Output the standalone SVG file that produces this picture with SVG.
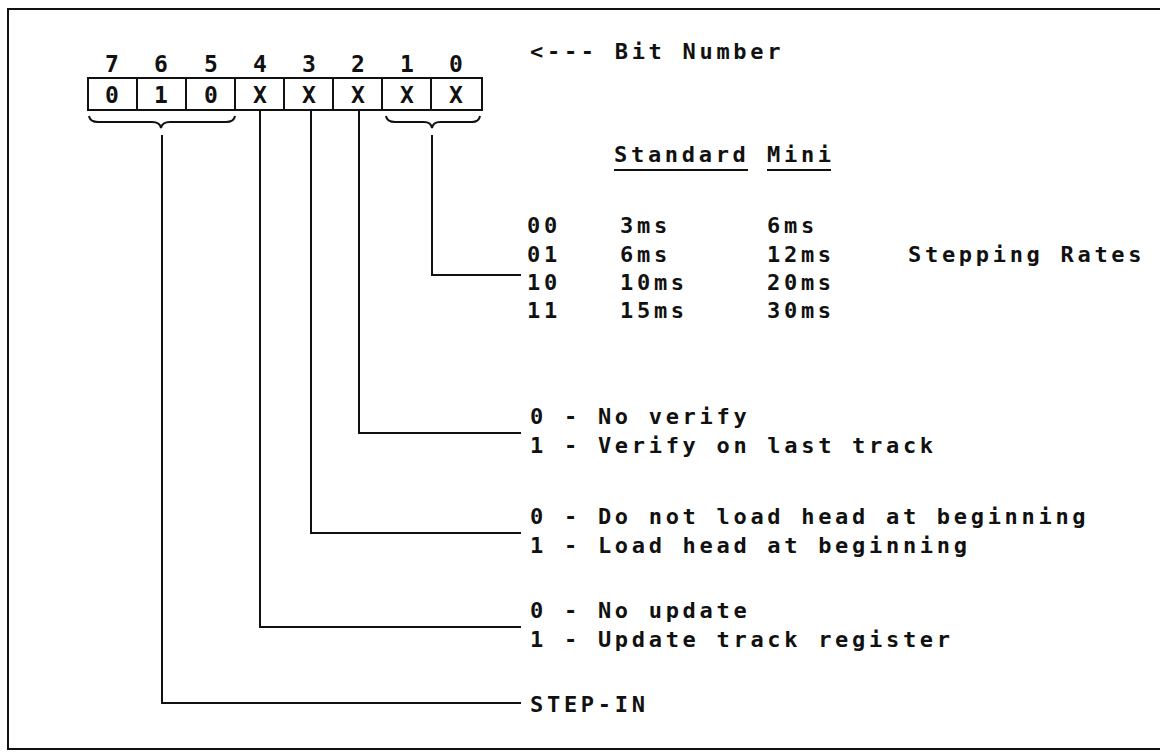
<svg xmlns="http://www.w3.org/2000/svg" width="1160" height="752" viewBox="0 0 1160 752">
<style>
.t{font-family:"DejaVu Sans Mono","Liberation Mono",monospace;font-size:22px;font-weight:bold;letter-spacing:3.7px;fill:#111}
.d{font-family:"DejaVu Sans Mono","Liberation Mono",monospace;font-size:23px;font-weight:bold;fill:#111;text-anchor:middle}
.c{font-family:"DejaVu Sans Mono","Liberation Mono",monospace;font-size:23px;font-weight:bold;fill:#111;text-anchor:middle}
.ln{fill:none;stroke:#111;stroke-width:2}
.cell{fill:#fff;stroke:#111;stroke-width:2}
</style>
<rect width="1160" height="752" fill="#fff"/>
<g id="frame">
<path class="ln" d="M1160 9 H8 V749 H1160"/>
</g>
<g id="register">
<g class="d">
<text x="112" y="72">7</text><text x="161" y="72">6</text><text x="211" y="72">5</text><text x="260" y="72">4</text>
<text x="309" y="72">3</text><text x="358" y="72">2</text><text x="407" y="72">1</text><text x="456" y="72">0</text>
</g>
<rect class="cell" x="88" y="78" width="394" height="32"/>
<path class="ln" d="M137 78V110M186 78V110M235 78V110M284 78V110M333 78V110M382 78V110M431 78V110"/>
<g class="c">
<text x="112" y="103">0</text><text x="161" y="103">1</text><text x="211" y="103">0</text><text x="260" y="103">X</text>
<text x="309" y="103">X</text><text x="358" y="103">X</text><text x="407" y="103">X</text><text x="456" y="103">X</text>
</g>
<path class="ln" d="M89 116 Q90 122 98 122 H152 Q160 122 161 128 Q162 122 170 122 H226 Q234 122 235 116"/>
<path class="ln" d="M386 116 Q387 122 395 122 H424 Q431 122 432 128 Q433 122 440 122 H472 Q479 122 480 116"/>
</g>
<g id="header">
<text class="t" x="530" y="59">&lt;--- Bit Number</text>
</g>
<g id="connectors">
<path class="ln" d="M432 135 V275 H521"/>
<path class="ln" d="M359 110 V433 H521" stroke="#555"/>
<path class="ln" d="M311 110 V533 H521"/>
<path class="ln" d="M260 110 V627 H521"/>
<path class="ln" d="M162 135 V703 H521"/>
</g>
<g id="rates">
<text class="t" x="614" y="162">Standard</text>
<text class="t" x="767" y="162">Mini</text>
<path class="ln" d="M614 170 H748 M767 170 H831"/>
<text class="t" x="527" y="233">00</text><text class="t" x="620" y="233">3ms</text><text class="t" x="767" y="233">6ms</text>
<text class="t" x="527" y="262">01</text><text class="t" x="620" y="262">6ms</text><text class="t" x="767" y="262">12ms</text>
<text class="t" x="527" y="290">10</text><text class="t" x="620" y="290">10ms</text><text class="t" x="767" y="290">20ms</text>
<text class="t" x="527" y="318">11</text><text class="t" x="620" y="318">15ms</text><text class="t" x="767" y="318">30ms</text>
<text class="t" x="908" y="262">Stepping Rates</text>
</g>
<g id="verify">
<text class="t" x="530" y="424">0</text><text class="t" x="564" y="424">- No verify</text>
<text class="t" x="530" y="453">1</text><text class="t" x="564" y="453">- Verify on last track</text>
</g>
<g id="headload">
<text class="t" x="530" y="524">0</text><text class="t" x="564" y="524">- Do not load head at beginning</text>
<text class="t" x="530" y="553">1</text><text class="t" x="564" y="553">- Load head at beginning</text>
</g>
<g id="update">
<text class="t" x="530" y="618">0</text><text class="t" x="564" y="618">- No update</text>
<text class="t" x="530" y="647">1</text><text class="t" x="564" y="647">- Update track register</text>
</g>
<g id="stepin">
<text class="t" x="530" y="712">STEP-IN</text>
</g>
</svg>
